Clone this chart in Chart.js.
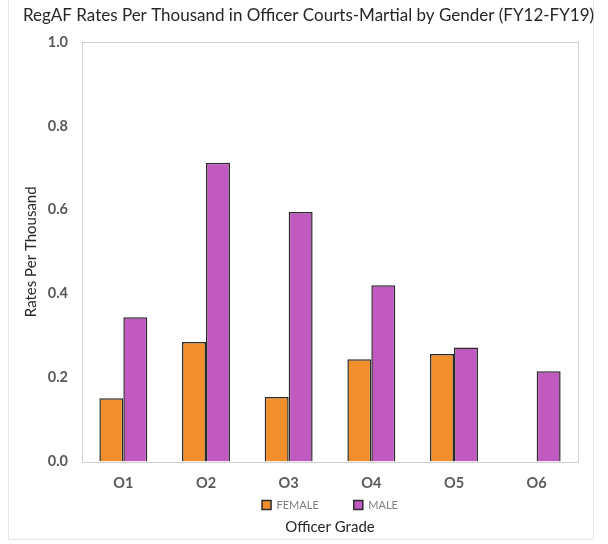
<!DOCTYPE html>
<html>
<head>
<meta charset="utf-8">
<script src="https://cdn.jsdelivr.net/npm/chart.js@4/dist/chart.umd.min.js"></script>
<style>
  html, body { margin: 0; padding: 0; background: #fff; }
  #wrap { width: 608px; height: 544px; position: relative; }
</style>
</head>
<body>
<div id="wrap"><canvas id="c" width="608" height="544"></canvas></div>
<script>
const categories = ["O1", "O2", "O3", "O4", "O5", "O6"];
const femaleRates = [0.151, 0.285, 0.154, 0.244, 0.256, null];
const maleRates = [0.344, 0.712, 0.595, 0.420, 0.272, 0.215];
const yTicks = [0.0, 0.2, 0.4, 0.6, 0.8, 1.0];

const FONT = "Lato, 'Open Sans', sans-serif";

const frame = {
  id: 'frame',
  beforeDraw(chart) {
    const ctx = chart.ctx;
    ctx.save();
    ctx.fillStyle = '#fff';
    ctx.fillRect(0, 0, chart.width, chart.height);
    ctx.strokeStyle = '#e6e6e6';
    ctx.lineWidth = 1;
    ctx.beginPath();
    ctx.moveTo(8.5, 0); ctx.lineTo(8.5, 539.5); ctx.lineTo(593.5, 539.5); ctx.lineTo(593.5, 0);
    ctx.stroke();
    const a = chart.chartArea;
    ctx.strokeStyle = '#d0d0d0';
    ctx.strokeRect(Math.round(a.left) + 0.5, Math.round(a.top) + 0.5, Math.round(a.right - a.left), Math.round(a.bottom - a.top));
    ctx.restore();
  }
};

new Chart(document.getElementById('c'), {
  type: 'bar',
  data: {
    labels: categories,
    datasets: [
      { label: 'FEMALE', data: femaleRates, backgroundColor: '#F28F2C', borderColor: '#2a2a2a', borderWidth: 1.5,
        categoryPercentage: 0.58, barPercentage: 1.0, yAxisID: 'y' },
      { label: 'MALE', data: maleRates, backgroundColor: '#C05AC0', borderColor: '#2a2a2a', borderWidth: 1.5,
        categoryPercentage: 0.58, barPercentage: 1.0, yAxisID: 'y' }
    ]
  },
  options: {
    responsive: false,
    animation: false,
    devicePixelRatio: 1,
    layout: { padding: { left: 9, right: 0, top: 0, bottom: 0 } },
    plugins: {
      title: {
        display: true,
        text: 'RegAF Rates Per Thousand in Officer Courts-Martial by Gender (FY12-FY19)',
        color: '#262626',
        font: { family: FONT, size: 17, weight: 'normal' },
        padding: { top: 5, bottom: 16.6 }
      },
      subtitle: {
        display: true,
        position: 'bottom',
        fullSize: false,
        text: 'Officer Grade',
        color: '#262626',
        font: { family: FONT, size: 15, weight: 'normal' },
        padding: { top: -2.5, bottom: 8 }
      },
      legend: {
        display: true,
        position: 'bottom',
        fullSize: false,
        title: {
          display: true,
          text: '',
          font: { size: 1 },
          padding: { top: -28.6, bottom: 0 }
        },
        labels: {
          boxWidth: 9, boxHeight: 9,
          color: '#7f7f7f',
          font: { family: FONT, size: 11 },
          padding: 35
        }
      },
      tooltip: { enabled: false }
    },
    scales: {
      x: {
        grid: { display: false, drawTicks: false },
        border: { display: false },
        ticks: { color: '#595959', font: { family: FONT, size: 14.5, weight: 'bold' }, padding: 13 },
        afterFit(scale) { scale.height = 30.4; }
      },
      y: {
        min: 0, max: 1.0,
        afterBuildTicks(scale) { scale.ticks = yTicks.map(v => ({ value: v })); },
        grid: { display: false, drawTicks: false },
        border: { display: false },
        ticks: {
          color: '#595959',
          font: { family: FONT, size: 14.5, weight: 'bold' },
          padding: 14,
          callback: v => Number(v).toFixed(1)
        },
        title: {
          display: true,
          text: 'Rates Per Thousand',
          color: '#262626',
          font: { family: FONT, size: 15, weight: 'normal' },
          padding: { top: 13.5, bottom: 0 }
        },
        afterFit(scale) { scale.width = 73; }
      },
      yRight: {
        position: 'right',
        display: true,
        min: 0, max: 1,
        grid: { display: false, drawTicks: false },
        border: { display: false },
        ticks: { display: false },
        afterFit(scale) { scale.width = 30; }
      }
    }
  },
  plugins: [frame]
});
</script>
</body>
</html>
